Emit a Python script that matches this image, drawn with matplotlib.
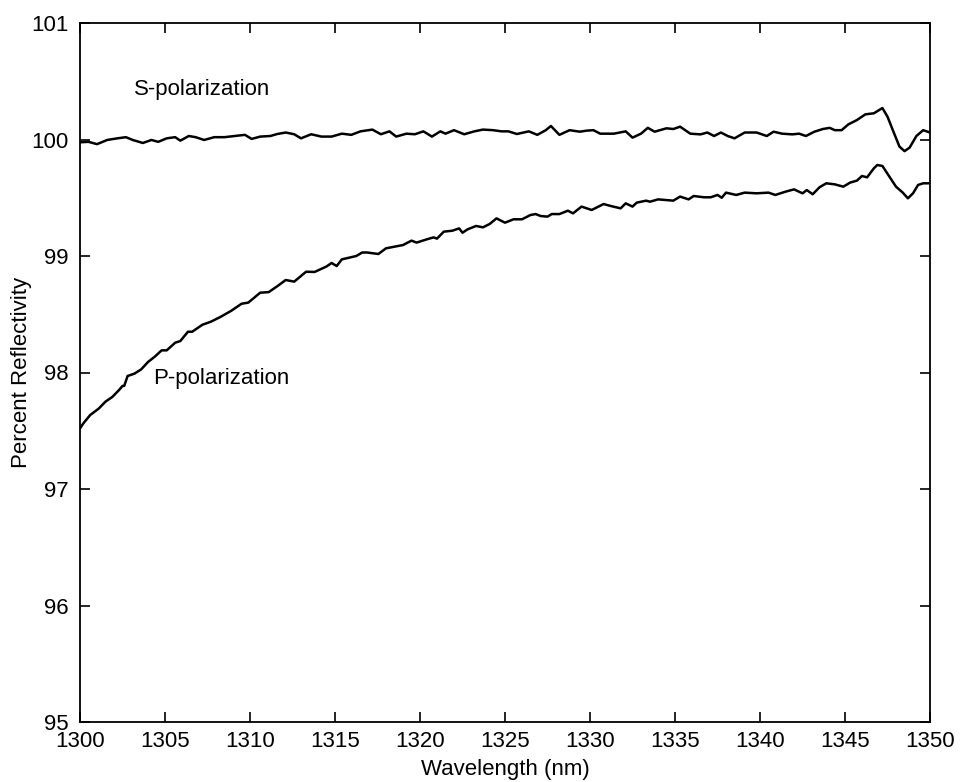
import matplotlib
matplotlib.use('Agg')
import matplotlib.pyplot as plt

plt.rcParams['font.family'] = ['Liberation Sans', 'DejaVu Sans']

# S-polarization trace
s_wavelength = [1300.0, 1300.5, 1301.0, 1301.6, 1302.2, 1302.7, 1303.1, 1303.7, 1304.2, 1304.6,
                1305.1, 1305.6, 1305.9, 1306.4, 1306.8, 1307.3, 1307.9, 1308.5, 1309.1, 1309.7,
                1310.1, 1310.6, 1311.2, 1311.6, 1312.1, 1312.6, 1313.0, 1313.6, 1314.2, 1314.8,
                1315.4, 1315.96, 1316.5, 1317.2, 1317.7, 1318.2, 1318.6, 1319.2, 1319.7, 1320.2,
                1320.7, 1321.2, 1321.5, 1322.0, 1322.6, 1323.2, 1323.7, 1324.3, 1324.8,
                1325.2, 1325.7, 1326.4, 1326.9, 1327.4, 1327.7, 1328.2, 1328.8, 1329.4, 1329.8,
                1330.2, 1330.6, 1331.4, 1332.1, 1332.5, 1333.0, 1333.4, 1333.8, 1334.5, 1334.9,
                1335.3, 1335.9, 1336.5, 1336.9, 1337.3, 1337.7, 1338.1, 1338.5, 1339.1, 1339.8,
                1340.4, 1340.8, 1341.3, 1341.9, 1342.3, 1342.7, 1343.2, 1343.7, 1344.1, 1344.4,
                1344.8, 1345.2, 1345.7, 1346.2, 1346.7, 1347.2, 1347.5, 1347.85, 1348.2, 1348.5,
                1348.8, 1349.2, 1349.6, 1350.0]
s_reflectivity = [99.976, 99.98, 99.96, 99.996, 100.01, 100.02, 99.996, 99.97, 99.996, 99.98,
                  100.01, 100.02, 99.99, 100.03, 100.02, 99.996, 100.02, 100.02, 100.03, 100.04,
                  100.005, 100.025, 100.03, 100.047, 100.06, 100.045, 100.01, 100.045, 100.025, 100.025,
                  100.05, 100.04, 100.07, 100.085, 100.045, 100.07, 100.025, 100.05, 100.045, 100.07,
                  100.025, 100.07, 100.05, 100.08, 100.045, 100.07, 100.085, 100.08, 100.07,
                  100.07, 100.047, 100.07, 100.04, 100.08, 100.116, 100.04, 100.08, 100.067, 100.076,
                  100.08, 100.05, 100.05, 100.07, 100.016, 100.05, 100.1, 100.067, 100.096, 100.09,
                  100.11, 100.05, 100.044, 100.06, 100.03, 100.06, 100.03, 100.01, 100.06, 100.06,
                  100.03, 100.067, 100.05, 100.044, 100.05, 100.03, 100.067, 100.09, 100.1, 100.08,
                  100.08, 100.13, 100.167, 100.216, 100.225, 100.27, 100.196, 100.067, 99.94, 99.9,
                  99.93, 100.03, 100.08, 100.06]

# P-polarization trace
p_wavelength = [1300.0, 1300.2, 1300.6, 1301.1, 1301.5, 1301.9, 1302.3, 1302.5, 1302.6, 1302.8,
                1303.2, 1303.6, 1304.0, 1304.4, 1304.8, 1305.1, 1305.6, 1305.9, 1306.35, 1306.6,
                1307.2, 1307.7, 1308.3, 1308.9, 1309.5, 1309.9, 1310.6, 1311.1, 1311.6, 1312.1,
                1312.6, 1313.3, 1313.8, 1314.5, 1314.8, 1315.1, 1315.4, 1315.96, 1316.25, 1316.6,
                1316.9, 1317.55, 1318.0, 1318.5, 1319.0, 1319.5, 1319.8, 1320.4, 1320.8, 1321.0,
                1321.4, 1321.9, 1322.3, 1322.5, 1322.8, 1323.3, 1323.7, 1324.1, 1324.5, 1325.0,
                1325.5, 1326.0, 1326.5, 1326.8, 1327.1, 1327.5, 1327.75, 1328.2, 1328.7, 1329.0,
                1329.5, 1330.1, 1330.8, 1331.2, 1331.8, 1332.1, 1332.5, 1332.75, 1333.3,
                1333.53, 1334.0, 1334.5, 1334.9, 1335.3, 1335.8, 1336.1, 1336.7, 1337.1, 1337.5,
                1337.75, 1338.0, 1338.6, 1339.1, 1339.8, 1340.5, 1340.9, 1341.5, 1342.0, 1342.5,
                1342.75, 1343.1, 1343.5, 1343.9, 1344.4, 1344.9, 1345.3, 1345.7, 1346.0, 1346.3,
                1346.7, 1346.9, 1347.2, 1347.55, 1348.0, 1348.4, 1348.7, 1349.0, 1349.3, 1349.6,
                1350.0]
p_reflectivity = [97.52, 97.564, 97.635, 97.69, 97.75, 97.79, 97.85, 97.885, 97.885, 97.97,
                  97.99, 98.027, 98.09, 98.136, 98.19, 98.19, 98.256, 98.27, 98.35, 98.35,
                  98.41, 98.436, 98.48, 98.53, 98.59, 98.6, 98.685, 98.69, 98.74, 98.794,
                  98.78, 98.865, 98.863, 98.91, 98.94, 98.914, 98.971, 98.99, 99.0, 99.03,
                  99.03, 99.017, 99.066, 99.08, 99.094, 99.132, 99.115, 99.143, 99.16, 99.149,
                  99.209, 99.217, 99.237, 99.2, 99.229, 99.258, 99.246, 99.275, 99.323, 99.286,
                  99.315, 99.315, 99.352, 99.36, 99.343, 99.338, 99.36, 99.36, 99.389, 99.366,
                  99.424, 99.395, 99.446, 99.43, 99.409, 99.452, 99.424, 99.458, 99.475,
                  99.466, 99.486, 99.48, 99.475, 99.51, 99.486, 99.515, 99.504, 99.504, 99.524,
                  99.5, 99.544, 99.524, 99.544, 99.538, 99.544, 99.524, 99.552, 99.572, 99.538,
                  99.566, 99.53, 99.59, 99.624, 99.615, 99.595, 99.63, 99.647, 99.687, 99.675,
                  99.753, 99.781, 99.773, 99.695, 99.595, 99.544, 99.495, 99.538, 99.61, 99.624,
                  99.624]

x_ticks = [1300, 1305, 1310, 1315, 1320, 1325, 1330, 1335, 1340, 1345, 1350]
y_ticks = [95, 96, 97, 98, 99, 100, 101]

fig = plt.figure(figsize=(9.6, 7.82), dpi=100)
ax = fig.add_axes([80 / 960, 60 / 782, 850 / 960, 699 / 782])

ax.plot(s_wavelength, s_reflectivity, color='black', linewidth=1.8)
ax.plot(p_wavelength, p_reflectivity, color='black', linewidth=1.8)

ax.text(1303.2, 100.43, 'S-polarization', fontsize=16, va='center', ha='left')
ax.text(1304.3, 97.95, 'P-polarization', fontsize=16, va='center', ha='left')

ax.set_xlim(1300, 1350)
ax.set_ylim(95, 101)
ax.set_xticks(x_ticks)
ax.set_yticks(y_ticks)
ax.tick_params(direction='in', length=7, width=1.2, top=True, right=True, labelsize=16)
ax.tick_params(axis='x', pad=6.5)
ax.tick_params(axis='y', pad=8)
for sp in ax.spines.values():
    sp.set_linewidth(1.3)

ax.set_xlabel('Wavelength (nm)', fontsize=16, labelpad=5)
ax.set_ylabel('Percent Reflectivity', fontsize=16, labelpad=0)

fig.savefig('out.png', dpi=100)
